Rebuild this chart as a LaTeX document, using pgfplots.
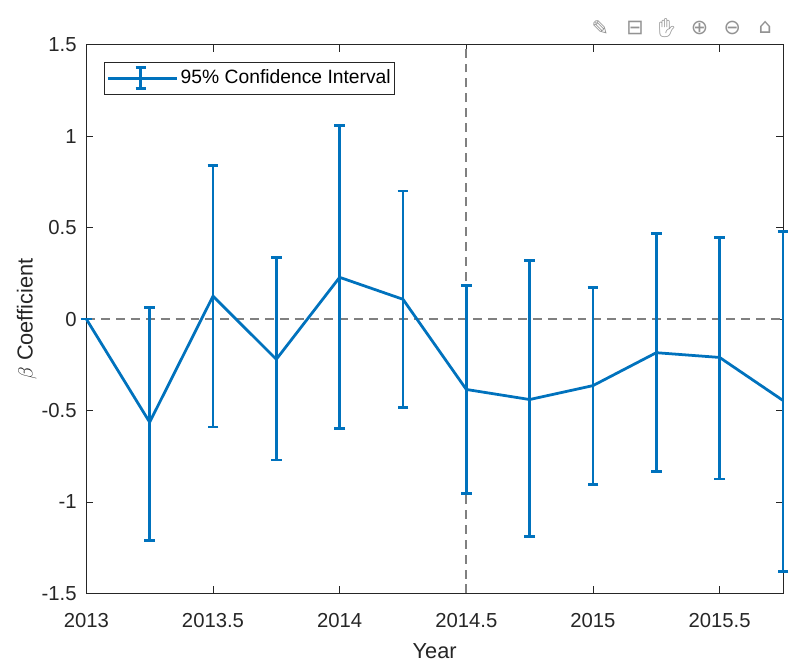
\documentclass[border=0pt]{standalone}
\usepackage{pgfplots}
\pgfplotsset{compat=1.18}
\usepackage{pgfplotstable}
\usepackage{fontspec}
\setmainfont{Liberation Sans}
\newfontfamily\dejavu{DejaVu Sans}
\newfontfamily\emoji{Noto Emoji}
\definecolor{mblue}{rgb}{0,0.447,0.741}
\definecolor{axgray}{rgb}{0.15,0.15,0.15}
\pgfplotstableread{
x y ep em
2013.00 0.000 0.000 0.000
2013.25 -0.564 0.629 0.646
2013.50 0.125 0.715 0.715
2013.75 -0.220 0.556 0.550
2014.00 0.228 0.830 0.825
2014.25 0.108 0.592 0.591
2014.50 -0.385 0.569 0.570
2014.75 -0.440 0.760 0.750
2015.00 -0.364 0.538 0.542
2015.25 -0.184 0.651 0.651
2015.50 -0.210 0.655 0.664
2015.75 -0.445 0.922 0.935
}\data
\begin{document}
\fontsize{20}{24}\selectfont
\begin{tikzpicture}
\begin{axis}[
  at={(0,0)}, anchor=south west,
  scale only axis, width=702bp, height=553bp,
  xmin=2013, xmax=2015.75, ymin=-1.5, ymax=1.5,
  xtick={2013,2013.5,2014,2014.5,2015,2015.5},
  ytick={-1.5,-1,-0.5,0,0.5,1,1.5},
  xticklabel style={/pgf/number format/.cd, 1000 sep={}, fixed, /tikz/yshift=-13bp},
  yticklabel style={/pgf/number format/.cd, fixed, /tikz/xshift=-3bp},
  /pgf/number format/assume math mode=true,
  tick align=inside, major tick length=7bp,
  axis line style={axgray, line width=0.7pt},
  tick style={axgray, line width=0.7pt},
  ticklabel style={font=\fontsize{20.5}{24}\selectfont, text=axgray},
  xlabel={Year}, ylabel={$\beta$ Coefficient},
  label style={font=\fontsize{22}{26}\selectfont, text=axgray},
  xlabel style={at={([yshift=-58bp]axis description cs:0.5,0)}, anchor=center},
  ylabel style={at={([xshift=-60bp]axis description cs:0,0.5)}, anchor=center},
  legend style={at={(18bp,536bp)}, anchor=north west, draw=axgray, line width=0.7pt,
    font=\fontsize{19.5}{23}\selectfont, inner xsep=2bp, inner ysep=4.5bp},
  legend cell align=left,
  clip=false,
]
\draw[gray, line width=1.8pt, dash pattern=on 9bp off 6bp] (axis cs:2013,0) -- (axis cs:2015.75,0);
\draw[gray, line width=1.8pt, dash pattern=on 9bp off 6bp] (axis cs:2014.5,-1.5) -- (axis cs:2014.5,1.5);
\addplot[mblue, line width=2.8pt, mark=none,
  legend image code/.code={
    \path (-3bp,0bp) -- (67bp,0bp);
    \draw[mblue, line width=2.8pt] (0bp,0bp) -- (60bp,0bp);
    \draw[mblue, line width=2.8pt] (30bp,-10.5bp) -- (30bp,10.5bp);
    \draw[mblue, line width=2.8pt] (25bp,-10.5bp) -- (35bp,-10.5bp);
    \draw[mblue, line width=2.8pt] (25bp,10.5bp) -- (35bp,10.5bp);
  },
  error bars/.cd, y dir=both, y explicit,
  error bar style={line width=2.8pt, mblue},
  error mark options={rotate=90, mark size=5.5bp, line width=2.8pt, mblue},
  ]
  table[x=x, y=y, y error plus=ep, y error minus=em] {\data};
\addlegendentry{95\% Confidence Interval}
\end{axis}
\begin{scope}[every node/.style={text=gray!85, font=\dejavu\fontsize{21}{24}\selectfont, anchor=center}]
\node at (518bp,570bp) {✎};
\node at (553bp,570bp) {⊟};
\node[font=\emoji\fontsize{19}{22}\selectfont] at (585bp,570bp) {✋};
\node at (618bp,570bp) {⊕};
\node at (651bp,570bp) {⊖};
\node at (684bp,570bp) {⌂};
\end{scope}
\path[use as bounding box] (-87bp,-63bp) rectangle (708bp,598bp);
\end{tikzpicture}
\end{document}
